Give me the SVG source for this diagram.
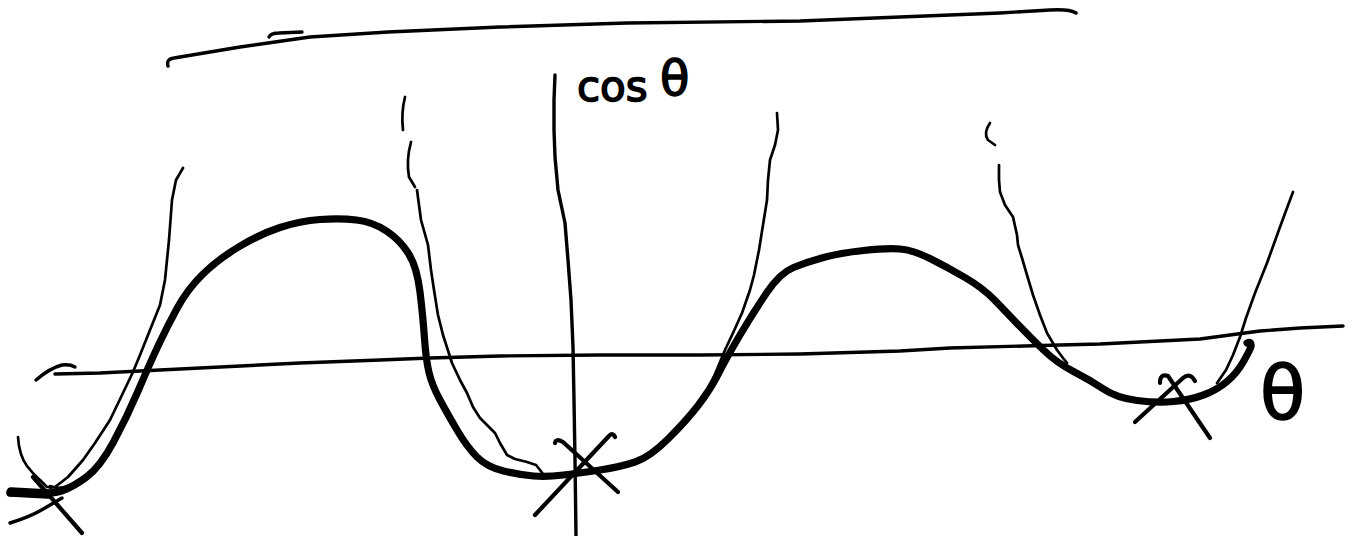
<svg xmlns="http://www.w3.org/2000/svg" width="1353" height="536" viewBox="0 0 1353 536">
<style>
.ln{fill:none;stroke:#000;stroke-linecap:round;stroke-linejoin:round}
.thin{stroke-width:2.7}
.axis{stroke-width:3.4}
.thick{stroke-width:7.2}
.mark{stroke-width:4.2}
.lbl{font-family:"DejaVu Sans","Liberation Sans",sans-serif;fill:#000;stroke:#000;stroke-width:1.6;stroke-linejoin:round}
</style>
<rect width="1353" height="536" fill="#fff"/>
<g id="top-line">
<path class="ln axis" d="M168,66 Q166,59 174,58 L210,52 L240,47 L275,42 L310,37 L388,32 L500,27 L627,23 L800,21 L925,16 L1000,13 L1050,10 Q1070,9 1076,13"/>
<path class="ln axis" d="M269,37 Q271,33 279,33 L302,32"/>
</g>
<g id="axes">
<path class="ln axis" d="M55,374 L100,373 L200,368 L300,363 L380,360 L430,358 L500,356 L600,355 L700,355 L800,354 L900,351 L950,348 L1060,345 L1100,344 L1200,339 L1260,331 L1300,328 L1343,326"/>
<path class="ln axis" d="M36,380 Q50,368 62,365 Q70,364 75,367"/>
<path class="ln axis" d="M555,75 L554,100 L554,130 L555,157 L558,190 L565,223 L568,260 L571,300 L573,347 L574,400 L575,460 L576,536"/>
</g>
<g id="thin-curves">
<path class="ln thin" d="M183,168 L176,180 L172,200 L169,240 L165,280 L160,305 L150,330 L140,355 L133,372 L122,395 L110,420 L95,443 L83,460 L68,477 L55,487 Q47,489 50,486 Q60,490 70,485 L85,480"/>
<path class="ln thin" d="M18,437 Q19,455 27,466 Q33,474 40,480 L47,487"/>
<path class="ln thin" d="M405,97 Q401,113 403,130"/>
<path class="ln thin" d="M411,142 Q406,160 409,177 L415,187"/>
<path class="ln thin" d="M417,190 L419,205 L421,220 L428,245 L431,270 L434,290 L438,315 L443,335 L452,363 L460,380 L467,393 L473,407 L480,418 L490,428 L495,433 L500,443 L507,455 L515,459 L527,462 L536,465 L540,470 L543,474"/>
<path class="ln thin" d="M777,113 L778,130 L775,145 L770,160 L768,180 L767,200 L763,225 L759,250 L754,275 L750,290 L742,313 L733,333 L725,350 L718,367 L707,393 L697,405 L687,420 L673,435 L660,447 L647,457"/>
<path class="ln thin" d="M990,123 Q983,133 988,140 L995,145"/>
<path class="ln thin" d="M999,165 L999,180 L1000,192 L1005,205 L1013,217 L1017,235 L1018,245 L1022,258 L1027,275 L1033,295 L1040,315 L1047,333 L1057,350 L1063,358 L1067,363"/>
<path class="ln thin" d="M1293,192 L1287,208 L1280,227 L1267,263 L1255,293 L1246,318 L1240,337 L1233,355 L1226,370 L1217,383"/>
</g>
<g id="thick-curve">
<path class="ln" stroke-width="9.5" d="M11,492 L48,494"/>
<path class="ln thick" d="M10,493 Q50,495 61.5,491 Q73,487 86.5,477 Q100,467 113.5,442 Q127,417 138.5,390 Q150,363 158.5,345 Q167,327 177,308.5 Q187,290 202,275 Q217,260 238.5,247 Q260,234 280,227.5 Q300,221 320,219.5 Q340,218 356.5,220 Q373,222 386.5,231 Q400,240 408.5,253.5 Q417,267 420,292 Q423,317 424.5,338.5 Q426,360 429,372.5 Q432,385 439.5,399 Q447,413 457,430 Q467,447 477,457 Q487,467 503.5,471 Q520,475 533.5,476 Q547,477 563.5,475 Q580,473 600,470 Q620,467 635,462 Q650,457 668.5,438.5 Q687,420 698.5,405 Q710,390 718.5,373.5 Q727,357 740,335 Q753,313 766.5,293 Q780,273 793.5,267.5 Q807,262 823.5,257.5 Q840,253 863.5,250.5 Q887,248 900,249 Q913,250 930,258.5 Q947,267 965,277.5 Q983,288 995,300.5 Q1007,313 1018.5,325 Q1030,337 1043.5,350 Q1057,363 1073.5,371.5 Q1090,380 1103.5,389 Q1117,398 1137,400.5 Q1157,403 1173.5,401.5 Q1190,400 1203.5,395 Q1217,390 1227,381.5 Q1237,373 1243.5,361.5 Q1250,350 1251,346.5 Q1252,341 1247,343"/>
</g>
<g id="marks">
<path class="ln mark" d="M33,477 L82,533"/>
<path class="ln" stroke-width="3.4" d="M10,523 Q30,517 45,508 L62,498"/>
<path class="ln mark" d="M555,443 Q556,438 563,442 L618,492"/>
<path class="ln mark" d="M615,437 Q613,432 609,436 L535,515"/>
<path class="ln mark" d="M1160,383 Q1160,373 1168,376 L1210,438"/>
<path class="ln mark" d="M1195,381 Q1190,372 1183,378 L1135,422"/>
</g>
<g id="labels">
<text class="lbl" x="577" y="101" font-size="42">cos</text>
<text class="lbl" x="660" y="95" font-size="48">θ</text>
<text class="lbl" x="1260" y="419" font-size="74">θ</text>
</g>
</svg>
